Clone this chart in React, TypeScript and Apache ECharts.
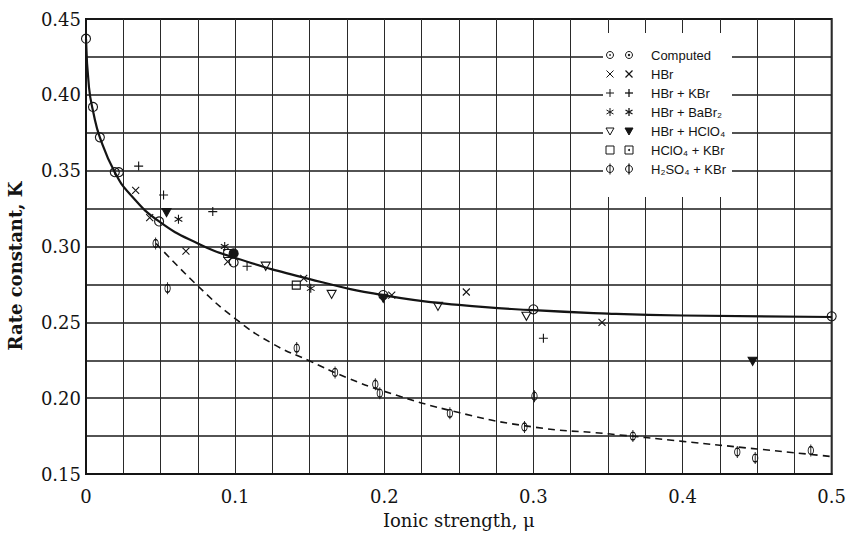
import React, { useEffect, useRef } from "react";
import * as echarts from "echarts";

// ---------- data ----------
const xTickLabels = ["0", "0.1", "0.2", "0.3", "0.4", "0.5"];
const yTickLabels = ["0.15", "0.20", "0.25", "0.30", "0.35", "0.40", "0.45"];

const computedCurve: number[][] = [
  [0, 0.437], [0.002, 0.405], [0.005, 0.388], [0.0093, 0.372], [0.0193, 0.349],
  [0.03, 0.334], [0.049, 0.3165], [0.075, 0.302], [0.1, 0.2925], [0.15, 0.2785],
  [0.2, 0.2678], [0.25, 0.2615], [0.3, 0.258], [0.35, 0.2558], [0.4, 0.2545], [0.5, 0.2535],
];
const dashedCurve: number[][] = [
  [0.047, 0.302], [0.075, 0.274], [0.1, 0.2525], [0.125, 0.236], [0.15, 0.2245],
  [0.175, 0.2135], [0.2, 0.2045], [0.25, 0.1905], [0.3, 0.181], [0.35, 0.1765],
  [0.4, 0.1715], [0.45, 0.1665], [0.5, 0.1615],
];

const computedOpen: number[][] = [
  [0, 0.437], [0.0047, 0.392], [0.0093, 0.372], [0.0193, 0.349], [0.022, 0.349],
  [0.049, 0.3165], [0.099, 0.2895], [0.1993, 0.268], [0.3, 0.2586], [0.5, 0.254],
];
const computedDot: number[][] = [[0.099, 0.2954]];
const hbr: number[][] = [
  [0.0333, 0.337], [0.0427, 0.319], [0.067, 0.297], [0.095, 0.29], [0.146, 0.279],
  [0.205, 0.268], [0.255, 0.27], [0.346, 0.25],
];
const hbrKbr: number[][] = [
  [0.0353, 0.353], [0.052, 0.334], [0.085, 0.323], [0.108, 0.287], [0.3067, 0.2395],
];
const hbrBabr2: number[][] = [[0.062, 0.318], [0.093, 0.3], [0.1507, 0.2724]];
const hbrHclo4Open: number[][] = [
  [0.1205, 0.287], [0.1647, 0.2684], [0.236, 0.2605], [0.2953, 0.254],
];
const hbrHclo4Filled: number[][] = [[0.054, 0.3224], [0.1993, 0.2658], [0.447, 0.2243]];
const hclo4Kbr: number[][] = [[0.095, 0.2954], [0.141, 0.2745]];
const h2so4Kbr: number[][] = [
  [0.0467, 0.302], [0.0547, 0.2724], [0.1413, 0.233], [0.167, 0.217], [0.194, 0.2092],
  [0.197, 0.2033], [0.244, 0.19], [0.294, 0.181], [0.3007, 0.2013], [0.3667, 0.175],
  [0.4367, 0.1645], [0.4487, 0.1605], [0.486, 0.1655],
];

const legendNames = [
  "Computed", "HBr", "HBr + KBr", "HBr + BaBr\u2082", "HBr + HClO\u2084",
  "HClO\u2084 + KBr", "H\u2082SO\u2084 + KBr",
];
const yTitle = "Rate constant, K";
const xTitle = "Ionic strength, \u03bc";

// ---------- symbols ----------
const INK = "#141414";
const SYM_CROSS = "path://M0,0L10,10M10,0L0,10";
const SYM_PLUS = "path://M5,0L5,10M0,5L10,5";
const SYM_STAR = "path://M5,0L5,10M0.7,2.5L9.3,7.5M9.3,2.5L0.7,7.5";
const SYM_TRI = "path://M0,0L10,0L5,9Z";
const SYM_PHI = "path://M1,5A4,4,0,1,1,9,5A4,4,0,1,1,1,5ZM5,-1L5,11";

function scatter(name: string, data: number[][], symbol: string, size: any, filled = false) {
  return {
    type: "scatter",
    name,
    data,
    symbol,
    symbolSize: size,
    symbolKeepAspect: true,
    z: 4,
    itemStyle: {
      color: filled ? INK : "rgba(0,0,0,0)",
      borderColor: INK,
      borderWidth: 1.1,
      opacity: 1,
    },
  };
}

function legendSymbol(kind: number, cx: number, cy: number, variant: number): any[] {
  const s = { stroke: INK, lineWidth: 1, fill: "none" };
  const out: any[] = [];
  const ln = (x1: number, y1: number, x2: number, y2: number) =>
    out.push({ type: "line", shape: { x1, y1, x2, y2 }, style: { stroke: INK, lineWidth: variant ? 1.3 : 1 } });
  if (kind === 0) {
    out.push({ type: "circle", shape: { cx, cy, r: 3.5 }, style: s });
    out.push({ type: "circle", shape: { cx, cy, r: variant ? 1.2 : 0.8 }, style: { fill: INK } });
  } else if (kind === 1) {
    ln(cx - 3.5, cy - 3.5, cx + 3.5, cy + 3.5);
    ln(cx + 3.5, cy - 3.5, cx - 3.5, cy + 3.5);
  } else if (kind === 2) {
    ln(cx, cy - 4, cx, cy + 4);
    ln(cx - 4, cy, cx + 4, cy);
  } else if (kind === 3) {
    ln(cx, cy - 4, cx, cy + 4);
    ln(cx - 3.5, cy - 2, cx + 3.5, cy + 2);
    ln(cx + 3.5, cy - 2, cx - 3.5, cy + 2);
  } else if (kind === 4) {
    out.push({
      type: "polygon",
      shape: { points: [[cx - 4, cy - 3], [cx + 4, cy - 3], [cx, cy + 4]] },
      style: variant ? { fill: INK, stroke: INK, lineWidth: 1 } : s,
    });
  } else if (kind === 5) {
    out.push({ type: "rect", shape: { x: cx - 4, y: cy - 4, width: 8, height: 8 }, style: s });
    if (variant) out.push({ type: "circle", shape: { cx, cy, r: 1 }, style: { fill: INK } });
  } else {
    out.push({ type: "circle", shape: { cx, cy, r: 3.5 }, style: s });
    ln(cx, cy - 5.5, cx, cy + 5.5);
  }
  return out;
}

export default function App() {
  const ref = useRef<HTMLDivElement>(null);

  useEffect(() => {
    if (!ref.current) return;
    const chart = echarts.init(ref.current, undefined, { renderer: "svg" });

    const serif = "'DejaVu Serif', 'Liberation Serif', serif";
    const sans = "'Liberation Sans', 'DejaVu Sans', sans-serif";

    const extraEls: any[] = [
      {
        type: "rect",
        shape: { x: 603, y: 33, width: 129, height: 164 },
        style: { fill: "#ffffff" },
        z: 10,
      },
      {
        type: "text",
        x: 15,
        y: 266,
        rotation: Math.PI / 2,
        z: 11,
        style: {
          text: yTitle,
          fill: INK,
          font: `bold 18px ${serif}`,
          align: "center",
          verticalAlign: "middle",
        },
      },
    ];
    legendNames.forEach((nm, i) => {
      const cy = 55 + i * 19;
      [...legendSymbol(i, 610, cy, 0), ...legendSymbol(i, 629, cy, 1)].forEach((el) => {
        el.z = 11;
        extraEls.push(el);
      });
      extraEls.push({
        type: "text",
        x: 651,
        y: cy,
        z: 11,
        style: {
          text: nm,
          fill: INK,
          font: `13px ${sans}`,
          verticalAlign: "middle",
          align: "left",
        },
      });
    });

    const option: any = {
      animation: false,
      backgroundColor: "#ffffff",
      grid: {
        left: 86,
        right: 13,
        top: 19,
        bottom: 59,
        show: true,
        borderColor: INK,
        borderWidth: 2,
        backgroundColor: "transparent",
      },
      xAxis: {
        type: "value",
        min: 0,
        max: 0.5,
        interval: 0.1,
        name: xTitle,
        nameLocation: "middle",
        nameGap: 37,
        nameTextStyle: { fontFamily: serif, fontSize: 18, color: INK },
        axisLine: { show: true, lineStyle: { color: INK, width: 2 } },
        axisTick: { show: false },
        axisLabel: {
          margin: 13,
          fontFamily: serif,
          fontSize: 18,
          color: INK,
          formatter: (v: number) => xTickLabels[Math.round(v * 10)] ?? "",
        },
        splitLine: { show: true, lineStyle: { color: "#2a2a2a", width: 1 } },
        minorTick: { show: false, splitNumber: 4 },
        minorSplitLine: { show: true, lineStyle: { color: "#2a2a2a", width: 1 } },
      },
      yAxis: {
        type: "value",
        min: 0.15,
        max: 0.45,
        interval: 0.05,
        axisLine: { show: true, lineStyle: { color: INK, width: 2 } },
        axisTick: { show: false },
        axisLabel: {
          margin: 5,
          fontFamily: serif,
          fontSize: 18,
          color: INK,
          formatter: (v: number) => yTickLabels[Math.round((v - 0.15) / 0.05)] ?? "",
        },
        splitLine: { show: true, lineStyle: { color: "#1a1a1a", width: 1.5 } },
        minorTick: { show: false, splitNumber: 2 },
        minorSplitLine: { show: true, lineStyle: { color: "#1a1a1a", width: 1.5 } },
      },
      series: [
        {
          type: "line",
          name: "computed-curve",
          data: computedCurve,
          smooth: 0.5,
          showSymbol: false,
          symbol: "none",
          z: 3,
          lineStyle: { color: INK, width: 2.2 },
        },
        {
          type: "line",
          name: "dashed-curve",
          data: dashedCurve,
          smooth: 0.5,
          showSymbol: false,
          symbol: "none",
          z: 3,
          lineStyle: { color: INK, width: 1.6, type: [7, 5] },
        },
        scatter("Computed", computedOpen, "circle", 9),
        scatter("Computed (2)", computedDot, "circle", 9, true),
        scatter("HBr", hbr, SYM_CROSS, 7),
        scatter("HBr + KBr", hbrKbr, SYM_PLUS, 9),
        scatter("HBr + BaBr2", hbrBabr2, SYM_STAR, 9),
        scatter("HBr + HClO4", hbrHclo4Open, SYM_TRI, 9),
        scatter("HBr + HClO4 (2)", hbrHclo4Filled, SYM_TRI, 9, true),
        scatter("HClO4 + KBr", hclo4Kbr, "rect", 8),
        scatter("H2SO4 + KBr", h2so4Kbr, SYM_PHI, [8, 12]),
      ],
      graphic: extraEls,
    };

    chart.setOption(option);
    return () => chart.dispose();
  }, []);

  return (
    <div
      ref={ref}
      style={{ position: "fixed", left: 0, top: 0, width: 849, height: 534 }}
    />
  );
}
